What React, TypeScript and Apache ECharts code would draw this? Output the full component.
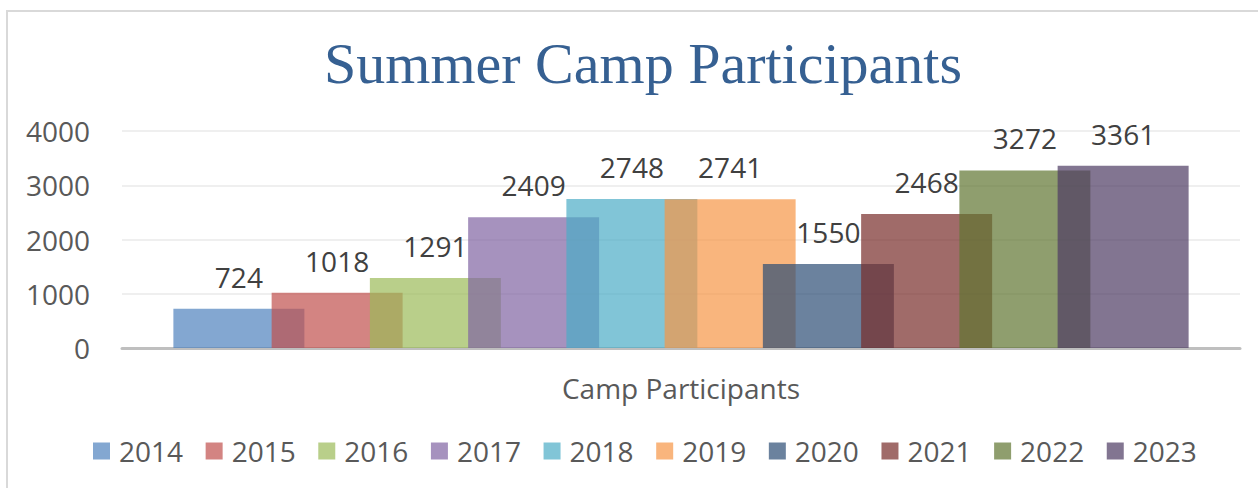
import React, { useEffect, useRef } from "react";
import * as echarts from "echarts";

const categories = ["Camp Participants"];
const years = ["2014", "2015", "2016", "2017", "2018", "2019", "2020", "2021", "2022", "2023"];
const values = [724, 1018, 1291, 2409, 2748, 2741, 1550, 2468, 3272, 3361];
const colors = [
  "rgba(79,129,189,0.7)",
  "rgba(192,80,77,0.7)",
  "rgba(155,187,89,0.7)",
  "rgba(128,100,162,0.7)",
  "rgba(75,172,198,0.7)",
  "rgba(247,150,70,0.7)",
  "rgba(44,77,117,0.7)",
  "rgba(119,44,42,0.7)",
  "rgba(95,117,48,0.7)",
  "rgba(77,59,98,0.7)",
];
const yTicks = { min: 0, max: 4000, interval: 1000 };
const titleText = "Summer Camp Participants";

const FONT = "'Open Sans', 'Noto Sans', sans-serif";

export default function App() {
  const ref = useRef<HTMLDivElement>(null);
  useEffect(() => {
    document.body.style.margin = "0";
    const chart = echarts.init(ref.current!, null, { renderer: "svg" });
    chart.setOption({
      animation: false,
      backgroundColor: "#ffffff",
      title: {
        text: titleText,
        left: 638,
        textAlign: "center",
        top: 29,
        textStyle: {
          fontFamily: "'Liberation Serif', serif",
          fontSize: 58,
          fontWeight: "normal",
          color: "#366092",
        },
      },
      graphic: [
        {
          type: "rect",
          shape: { x: 7, y: 11, width: 1400, height: 700 },
          style: { fill: "none", stroke: "#D9D9D9", lineWidth: 2 },
          silent: true,
        },
      ],
      legend: {
        left: 88,
        top: 432,
        itemWidth: 17,
        itemHeight: 17,
        itemGap: 22.6,
        icon: "rect",
        textStyle: {
          fontFamily: FONT,
          fontSize: 28,
          color: "#595959",
          padding: [0, 0, 0, 4],
        },
        data: years,
      },
      grid: { left: 122, right: 18, top: 131, bottom: 140 },
      xAxis: {
        type: "category",
        data: categories,
        axisLine: { show: true, lineStyle: { color: "#BFBFBF", width: 3 } },
        axisTick: { show: false },
        axisLabel: {
          fontFamily: FONT,
          fontSize: 28,
          color: "#595959",
          margin: 26,
        },
        splitLine: { show: false },
      },
      yAxis: {
        type: "value",
        min: yTicks.min,
        max: yTicks.max,
        interval: yTicks.interval,
        axisLine: { show: false },
        axisTick: { show: false },
        axisLabel: {
          fontFamily: FONT,
          fontSize: 28,
          color: "#595959",
          margin: 32,
          formatter: (v: number) => String(v),
        },
        splitLine: { show: true, lineStyle: { color: "#EFEFEF", width: 2 } },
      },
      series: years.map((y, i) => ({
        name: y,
        type: "bar",
        data: [values[i]],
        barWidth: 131,
        barGap: "-25%",
        itemStyle: { color: colors[i] },
        label: {
          show: true,
          position: "top",
          distance: 18,
          fontFamily: FONT,
          fontSize: 28,
          color: "#404040",
        },
      })),
    });
    return () => chart.dispose();
  }, []);
  return <div ref={ref} style={{ width: 1258, height: 488 }} />;
}
